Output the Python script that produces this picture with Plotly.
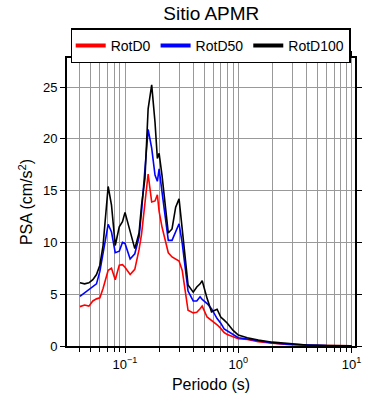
import plotly.graph_objects as go

periods = [0.040, 0.044, 0.048, 0.052, 0.056, 0.060, 0.064, 0.071, 0.076, 0.082,
           0.089, 0.095, 0.100, 0.111, 0.122, 0.133, 0.140, 0.150, 0.160, 0.172,
           0.184, 0.193, 0.200, 0.212, 0.225, 0.241, 0.260, 0.280, 0.300, 0.320,
           0.340, 0.360, 0.400, 0.430, 0.460, 0.480, 0.530, 0.580, 0.650, 0.700,
           0.750, 0.800, 0.900, 1.0, 1.2, 1.5, 2.0, 2.7, 4.0, 6.0, 10.0]

rotd100 = [6.1, 6.0, 6.1, 6.4, 6.9, 7.8, 9.7, 15.4, 13.6, 9.7,
           11.5, 12.0, 12.9, 11.0, 9.4, 10.9, 13.6, 16.2, 22.9, 25.2,
           21.6, 18.1, 18.6, 16.5, 13.9, 10.9, 11.3, 13.4, 14.2, 11.3,
           8.1, 5.9, 5.2, 5.7, 6.0, 6.3, 4.6, 3.3, 3.55, 2.8,
           2.5, 2.2, 1.5, 1.05, 0.8, 0.57, 0.37, 0.23, 0.1, 0.05, 0.02]

rotd50 = [4.8, 5.15, 5.45, 5.7, 6.0, 7.2, 8.8, 11.75, 11.0, 9.0,
          9.15, 10.0, 9.9, 8.4, 8.9, 10.5, 13.0, 17.1, 20.9, 19.1,
          16.5, 15.9, 17.1, 14.9, 12.8, 10.2, 10.2, 11.1, 11.8, 9.9,
          7.2, 5.3, 4.35, 4.35, 4.75, 4.5, 4.1, 3.6, 2.65, 2.2,
          1.65, 1.45, 1.15, 0.8, 0.67, 0.48, 0.3, 0.17, 0.08, 0.04, 0.02]

rotd0 = [3.8, 3.95, 3.85, 4.35, 4.55, 4.65, 5.55, 7.3, 7.5, 6.4,
         7.8, 7.85, 7.6, 6.9, 7.4, 9.3, 10.8, 13.8, 16.6, 13.9,
         14.0, 14.6, 13.0, 11.5, 10.3, 9.0, 8.6, 8.4, 8.2, 7.3,
         5.2, 3.45, 3.2, 3.25, 3.6, 3.85, 2.8, 2.5, 2.05, 1.7,
         1.3, 1.1, 0.9, 0.7, 0.63, 0.42, 0.28, 0.15, 0.07, 0.03, 0.02]

series_names = ["RotD0", "RotD50", "RotD100"]
series_colors = ["#ff0000", "#0000ff", "#000000"]

x_major_vals = [0.1, 1, 10]
x_major_text = ["10<sup>\u22121</sup>", "10<sup>0</sup>", "10<sup>1</sup>"]
x_minor_vals = [m * d for d in (0.01, 0.1, 1) for m in range(2, 10)]

fig = go.Figure()
for name, color, vals in zip(series_names, series_colors, [rotd0, rotd50, rotd100]):
    fig.add_trace(go.Scatter(x=periods, y=vals, mode="lines", name=name,
                             line=dict(color=color, width=1.6), showlegend=False,
                             legendgroup=name))
# legend-only entries drawn with a thicker key line
for name, color in zip(series_names, series_colors):
    fig.add_trace(go.Scatter(x=[None], y=[None], mode="lines", name=name,
                             line=dict(color=color, width=4), legendgroup=name))

W, H = 390, 400
font_family = "Liberation Sans, Arial, Helvetica, sans-serif"
fig.update_layout(
    width=W, height=H,
    margin=dict(l=67, r=35, t=58, b=54, autoexpand=False),
    paper_bgcolor="white", plot_bgcolor="white",
    font=dict(family=font_family, size=13, color="black"),
    title=dict(text="Sitio APMR", x=211.3 / W, xanchor="center", xref="container",
               y=1 - 13 / H, yanchor="middle", yref="container",
               font=dict(size=19, color="black")),
    legend=dict(orientation="h", xref="container", x=210.7 / W, xanchor="center",
                yref="container", y=1 - 28.3 / H, yanchor="top",
                bordercolor="black", borderwidth=1.5, bgcolor="white",
                font=dict(size=14), itemwidth=30, tracegroupgap=0),
    showlegend=True,
    hovermode=False,
)
fig.update_xaxes(
    type="log", range=[-1.512, 1.03], automargin=False,
    tickvals=x_major_vals, ticktext=x_major_text,
    ticks="outside", ticklen=5, tickcolor="black", tickwidth=1,
    showline=True, linecolor="black", linewidth=1.8, mirror="allticks",
    showgrid=True, gridcolor="#999999", gridwidth=1,
    minor=dict(tickvals=x_minor_vals, ticks="outside", ticklen=4, tickcolor="black",
               showgrid=True, gridcolor="#999999", gridwidth=1),
    title=dict(text="Periodo (s)", font=dict(size=16), standoff=8),
    tickfont=dict(size=13), zeroline=False,
)
fig.update_yaxes(
    range=[0, 27.8], dtick=5, tick0=0, automargin=False,
    ticks="outside", ticklen=5, tickcolor="black", tickwidth=1,
    showline=True, linecolor="black", linewidth=1.8, mirror="allticks",
    showgrid=True, gridcolor="#999999", gridwidth=1,
    title=dict(text="PSA (cm/s<sup>2</sup>)", font=dict(size=16), standoff=6),
    tickfont=dict(size=13), zeroline=False,
)

fig.write_html("out.html", config={"displayModeBar": False},
               post_script="document.body.style.margin='0';")
